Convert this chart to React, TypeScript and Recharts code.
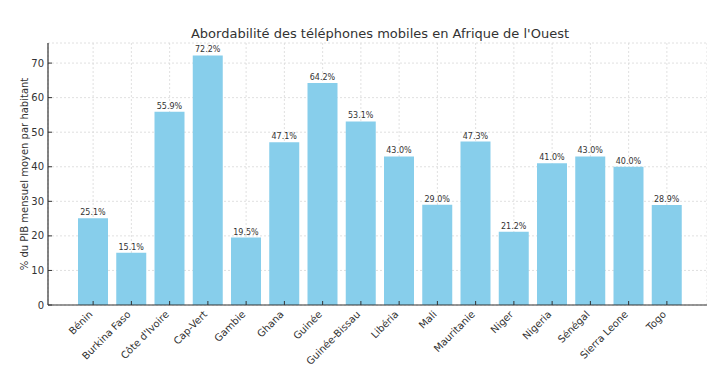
import React from "react";
import { BarChart, Bar, XAxis, YAxis, CartesianGrid, LabelList } from "recharts";

const countries = [
  "Bénin", "Burkina Faso", "Côte d'Ivoire", "Cap-Vert", "Gambie", "Ghana", "Guinée",
  "Guinée-Bissau", "Libéria", "Mali", "Mauritanie", "Niger", "Nigeria", "Sénégal",
  "Sierra Leone", "Togo",
];
const values = [25.1, 15.1, 55.9, 72.2, 19.5, 47.1, 64.2, 53.1, 43.0, 29.0, 47.3, 21.2, 41.0, 43.0, 40.0, 28.9];
const yTicks = [0, 10, 20, 30, 40, 50, 60, 70];
const title = "Abordabilité des téléphones mobiles en Afrique de l'Ouest";
const yLabel = "% du PIB mensuel moyen par habitant";

const data = countries.map((c, i) => ({ name: c, value: values[i] }));

const FONT = "'DejaVu Sans', sans-serif";
const TXT = "#333";

const XTick = (props: any) => {
  const { x, y, payload } = props;
  const tx = x;
  const ty = y + 10;
  return (
    <g>
      <line x1={x} y1={y} x2={x} y2={y - 4} stroke="#333" strokeWidth={1} />
      <text
        x={tx}
        y={ty}
        textAnchor="end"
        fontSize={10}
        fontFamily={FONT}
        fill={TXT}
        transform={`rotate(-45, ${tx}, ${ty})`}
      >
        {payload.value}
      </text>
    </g>
  );
};

const YTick = (props: any) => {
  const { x, y, payload } = props;
  return (
    <g>
      <line x1={48} y1={y} x2={52} y2={y} stroke="#333" strokeWidth={1} />
      <text x={44} y={y + 3.5} textAnchor="end" fontSize={10} fontFamily={FONT} fill={TXT}>
        {payload.value}
      </text>
    </g>
  );
};

export default function App() {
  return (
    <div style={{ position: "absolute", left: 0, top: 0, width: 707, height: 373, background: "#fff" }}>
      <BarChart
        width={707}
        height={373}
        data={data}
        margin={{ top: 43, right: 0, bottom: 0, left: 0 }}
      >
        <CartesianGrid stroke="#d8d8d8" strokeDasharray="2 2" strokeWidth={0.8} />
        <XAxis
          dataKey="name"
          interval={0}
          height={68}
          padding={{ left: 26, right: 21 }}
          tickSize={0}
          tickMargin={0}
          tick={<XTick />}
          axisLine={{ stroke: "#333", strokeWidth: 1.2 }}
          tickLine={false}
        />
        <YAxis
          width={48}
          domain={[0, 75.81]}
          ticks={yTicks}
          allowDataOverflow
          tickSize={0}
          tickMargin={0}
          tick={<YTick />}
          axisLine={{ stroke: "#333", strokeWidth: 1.2 }}
          tickLine={false}
        />
        <Bar dataKey="value" fill="#87CEEB" barSize={30} isAnimationActive={false}>
          <LabelList
            dataKey="value"
            position="top"
            offset={3}
            formatter={(v: any) => `${Number(v).toFixed(1)}%`}
            style={{ fontSize: 8, fontFamily: FONT, fill: TXT }}
          />
        </Bar>
      </BarChart>
      <svg
        width={707}
        height={373}
        style={{ position: "absolute", left: 0, top: 0, pointerEvents: "none" }}
      >
        <text x={380} y={38} textAnchor="middle" fontSize={13} fontFamily={FONT} fill={TXT}>
          {title}
        </text>
        <text
          x={28}
          y={174}
          textAnchor="middle"
          fontSize={10}
          fontFamily={FONT}
          fill={TXT}
          transform="rotate(-90, 28, 174)"
        >
          {yLabel}
        </text>
      </svg>
    </div>
  );
}
